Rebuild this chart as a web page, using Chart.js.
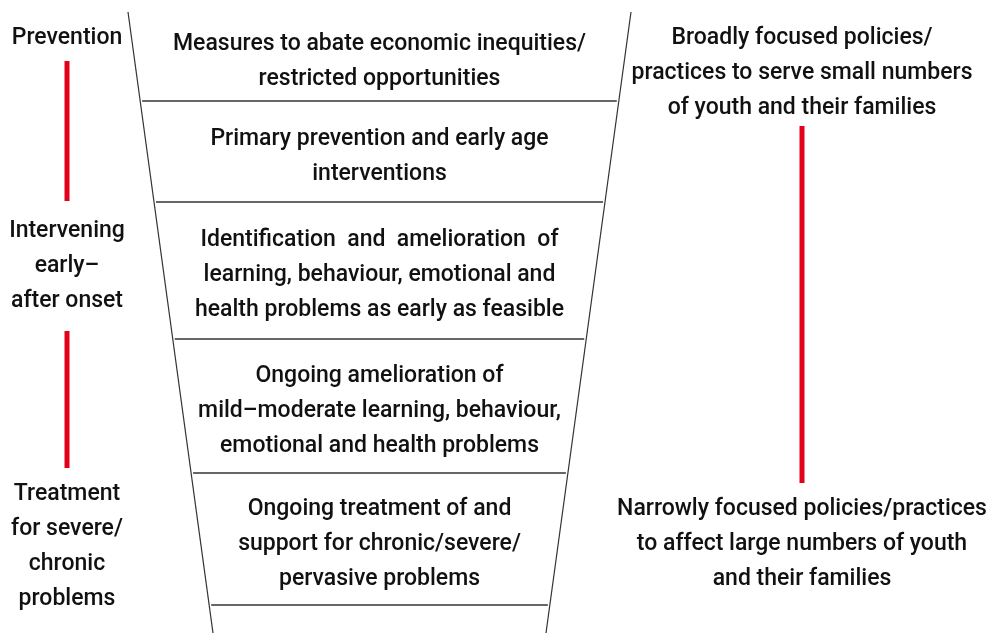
<!DOCTYPE html>
<html>
<head>
<meta charset="utf-8">
<title>From prevention to treatment</title>
<script src="https://cdn.jsdelivr.net/npm/chart.js"></script>
<style>
  html, body { margin: 0; padding: 0; background: #fff; }
  #wrap { width: 987px; height: 633px; }
</style>
</head>
<body>
<div id="wrap"><canvas id="funnelChart"></canvas></div>
<script>
// funnel bands, top to bottom
const bandTexts = [
  ["Measures to abate economic inequities/", "restricted opportunities"],
  ["Primary prevention and early age", "interventions"],
  ["Identification  and  amelioration  of", "learning, behaviour, emotional and", "health problems as early as feasible"],
  ["Ongoing amelioration of", "mild\u2013moderate learning, behaviour,", "emotional and health problems"],
  ["Ongoing treatment of and", "support for chronic/severe/", "pervasive problems"]
];
const bandEdges = [12, 101, 202, 339, 473, 605];

// slanted sides of the funnel: [x, y] at top and bottom
const leftSide = [[128, 12], [213, 633]];
const rightSide = [[631, 12], [546, 633]];

// left column: stages
const stageLabels = [
  ["Prevention"],
  ["Intervening", "early\u2013", "after onset"],
  ["Treatment", "for severe/", "chronic", "problems"]
];
const stageCentres = [35.5, 263.5, 544];
const stageBars = [[61, 201], [331, 468]];

// right column: reach of policies
const reachLabels = [
  ["Broadly focused policies/", "practices to serve small numbers", "of youth and their families"],
  ["Narrowly focused policies/practices", "to affect large numbers of youth", "and their families"]
];
const reachCentres = [70.5, 541.5];
const reachBars = [[126, 483]];

const STAGE_X = 67;
const REACH_X = 802;
const FUNNEL_X = 379.5;
const LINE_GAP = 35;
const CAP = 17;
const RED = "#e2001a";
const INK = "#333";

function sideX(side, y) {
  const [[x0, y0], [x1, y1]] = side;
  return x0 + (x1 - x0) * (y - y0) / (y1 - y0);
}

const lineSet = (data, color, width) => ({
  data: data,
  showLine: true,
  borderColor: color,
  borderWidth: width,
  borderCapStyle: "butt",
  pointRadius: 0,
  fill: false
});

const datasets = [
  lineSet(leftSide.map(([x, y]) => ({ x, y })), INK, 1.2),
  lineSet(rightSide.map(([x, y]) => ({ x, y })), INK, 1.2)
];
bandEdges.slice(1).forEach(y => {
  datasets.push(lineSet([
    { x: sideX(leftSide, y) + 2, y },
    { x: sideX(rightSide, y) - 2, y }
  ], INK, 1.3));
});
stageBars.forEach(([a, b]) => {
  datasets.push(lineSet([{ x: STAGE_X, y: a }, { x: STAGE_X, y: b }], RED, 5));
});
reachBars.forEach(([a, b]) => {
  datasets.push(lineSet([{ x: REACH_X, y: a }, { x: REACH_X, y: b }], RED, 5));
});

// all the wording goes on after the lines
const textPlugin = {
  id: "funnelText",
  afterDatasetsDraw(chart) {
    const { ctx, scales: { x, y } } = chart;
    ctx.save();
    ctx.font = "500 23px Roboto";
    ctx.fillStyle = "#111";
    ctx.textAlign = "center";
    ctx.textBaseline = "alphabetic";
    const block = (lines, cx, cy) => {
      lines.forEach((t, i) => {
        const base = cy + (i - (lines.length - 1) / 2) * LINE_GAP + CAP / 2;
        ctx.fillText(t, x.getPixelForValue(cx), y.getPixelForValue(base));
      });
    };
    bandTexts.forEach((lines, i) => {
      block(lines, FUNNEL_X, (bandEdges[i] + bandEdges[i + 1]) / 2 + 2);
    });
    stageLabels.forEach((lines, i) => block(lines, STAGE_X, stageCentres[i]));
    reachLabels.forEach((lines, i) => block(lines, REACH_X, reachCentres[i]));
    ctx.restore();
  }
};

new Chart(document.getElementById("funnelChart"), {
  type: "scatter",
  data: { datasets: datasets },
  options: {
    responsive: true,
    maintainAspectRatio: false,
    animation: false,
    layout: { padding: 0 },
    plugins: {
      legend: { display: false },
      tooltip: { enabled: false }
    },
    scales: {
      x: { type: "linear", min: 0, max: 987, display: false },
      y: { type: "linear", min: 0, max: 633, reverse: true, display: false }
    }
  },
  plugins: [textPlugin]
});
</script>
</body>
</html>
